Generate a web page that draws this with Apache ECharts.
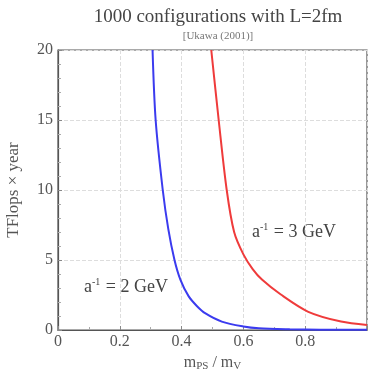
<!DOCTYPE html>
<html>
<head>
<meta charset="utf-8">
<title>ECharts</title>
<script src="https://cdn.jsdelivr.net/npm/echarts@6/dist/echarts.min.js"></script>
<style>body{margin:0;background:#fff;}</style>
</head>
<body>
<div id="main" style="width:368px;height:373px;"></div>
<script type="text/javascript">
var myChart = echarts.init(document.getElementById('main'));

// a^-1 = 2 GeV curve (x = m_PS/m_V, y = TFlops x year)
var blueX = [0.306, 0.316, 0.339, 0.357, 0.377, 0.396, 0.423, 0.45, 0.476, 0.53, 0.6, 0.65, 0.75, 0.85, 1.0];
var blueY = [20, 15, 10, 7.2, 5, 3.6, 2.4, 1.7, 1.2, 0.6, 0.25, 0.12, 0.05, 0.02, 0.01];
// a^-1 = 3 GeV curve
var redX = [0.496, 0.52, 0.546, 0.57, 0.6, 0.63, 0.66, 0.72, 0.81, 0.916, 1.0];
var redY = [20, 15, 10, 7, 5.4, 4.35, 3.6, 2.55, 1.3, 0.6, 0.36];

function pairs(xs, ys) {
    var out = [];
    for (var i = 0; i < xs.length; i++) out.push([xs[i], ys[i]]);
    return out;
}

var serif = '"Liberation Serif", "DejaVu Serif", serif';
var noteRich = {
    b: {fontFamily: serif, fontSize: 18, fill: '#444'},
    s: {fontFamily: serif, fontSize: 10, fill: '#444', verticalAlign: 'top', padding: [0, 1, 10, 0]}
};

var option = {
    animation: false,
    title: {
        text: '1000 configurations with L=2fm',
        subtext: '[Ukawa (2001)]',
        left: 213,
        textAlign: 'center',
        top: 3,
        itemGap: 4,
        textStyle: {fontFamily: serif, fontSize: 19, fontWeight: 'normal', color: '#444'},
        subtextStyle: {fontFamily: serif, fontSize: 11, color: '#777'}
    },
    grid: {left: 58, right: 1, top: 50, bottom: 43, outerBoundsMode: 'none', containLabel: false},
    xAxis: {
        type: 'value', min: 0, max: 1, interval: 0.2,
        name: '{m|m}{s|PS}{m| / m}{s|V}',
        nameLocation: 'middle', nameGap: 22,
        nameTextStyle: {
            rich: {
                m: {fontFamily: serif, fontSize: 16, color: '#555'},
                s: {fontFamily: serif, fontSize: 11, color: '#555', verticalAlign: 'bottom', padding: [7, 0, 0, 0]}
            }
        },
        axisLine: {lineStyle: {color: '#555', width: 1.2}},
        axisTick: {inside: true, length: 4, lineStyle: {color: '#888'}},
        minorTick: {show: true, splitNumber: 2, length: 3, lineStyle: {color: '#aaa'}},
        axisLabel: {fontFamily: serif, fontSize: 16, color: '#555', margin: 4, showMaxLabel: false},
        splitLine: {show: true, lineStyle: {color: '#ddd', type: 'dashed'}}
    },
    yAxis: {
        type: 'value', min: 0, max: 20, interval: 5,
        name: 'TFlops \u00d7 year',
        nameLocation: 'middle', nameGap: 36,
        nameTextStyle: {fontFamily: serif, fontSize: 17, color: '#555'},
        axisLine: {show: true, lineStyle: {color: '#555', width: 1.2}},
        axisTick: {inside: true, length: 4, lineStyle: {color: '#888'}},
        minorTick: {show: true, splitNumber: 5, length: 3, lineStyle: {color: '#aaa'}},
        axisLabel: {fontFamily: serif, fontSize: 16, color: '#555', margin: 5},
        splitLine: {show: true, lineStyle: {color: '#ddd', type: 'dashed'}}
    },
    graphic: [
        {type: 'rect', shape: {x: 58, y: 50, width: 309, height: 280}, style: {fill: 'none', stroke: '#555', lineWidth: 1.2}, silent: true},
        {type: 'text', left: 84, top: 277, style: {text: '{b|a}{s|-1}{b| = 2 GeV}', rich: noteRich}},
        {type: 'text', left: 252, top: 222, style: {text: '{b|a}{s|-1}{b| = 3 GeV}', rich: noteRich}}
    ],
    series: [
        {name: 'a-1 = 2 GeV', type: 'line', smooth: 0.3, symbol: 'none', clip: true,
            lineStyle: {color: '#3b3bef', width: 2}, data: pairs(blueX, blueY)},
        {name: 'a-1 = 3 GeV', type: 'line', smooth: 0.3, symbol: 'none', clip: true,
            lineStyle: {color: '#ef3b3b', width: 2}, data: pairs(redX, redY)}
    ]
};

myChart.setOption(option);
</script>
</body>
</html>
